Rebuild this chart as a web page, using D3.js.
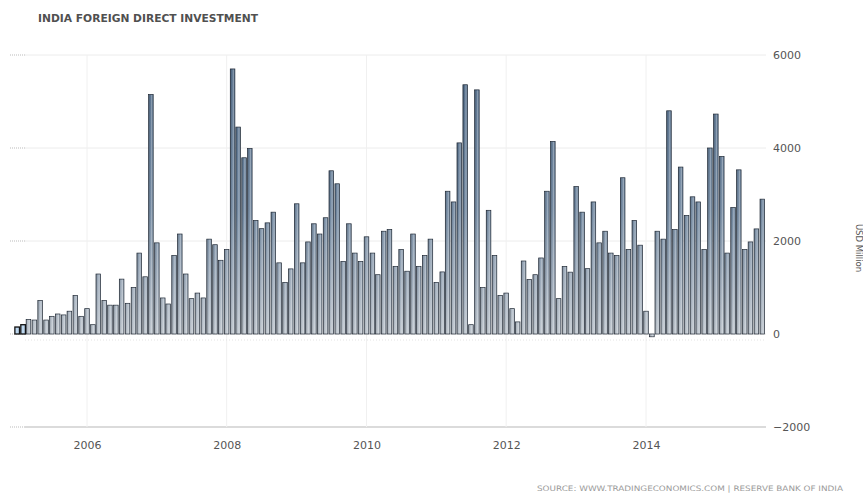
<!DOCTYPE html>
<html>
<head>
<meta charset="utf-8">
<script src="https://cdn.jsdelivr.net/npm/d3@7"></script>
<style>
  html, body { margin: 0; padding: 0; background: #fff; }
  svg { display: block; }
  text { font-family: "DejaVu Sans", sans-serif; }
</style>
</head>
<body>
<svg id="chart" width="863" height="498"></svg>
<script>
// ---- data ----
const titleText = "INDIA FOREIGN DIRECT INVESTMENT";
const unitLabel = "USD Million";
const sourceText = "SOURCE: WWW.TRADINGECONOMICS.COM | RESERVE BANK OF INDIA";
const firstMonth = "2005-01";   // month of first bar
const yTickValues = [-2000, 0, 2000, 4000, 6000];
const xTickLabels = ["2006", "2008", "2010", "2012", "2014"];
// monthly FDI, USD million, Jan 2005 .. Sep 2015
const fdiValues = [
  150, 200,
  310, 300, 720, 300, 380, 430, 410, 490, 830, 380,
  545, 200, 1290, 720, 620, 620, 1180, 660, 1000, 1740, 1230, 5150,
  1960, 775, 645, 1690, 2150, 1290, 760, 880, 775, 2040, 1920, 1585,
  1815, 5700, 4450, 3790, 3990, 2440, 2265, 2390, 2620, 1530, 1110, 1400,
  2800, 1530, 1980, 2370, 2150, 2500, 3510, 3230, 1560, 2370, 1740, 1560,
  2090, 1740, 1275, 2210, 2245, 1455, 1815, 1350, 2150, 1455, 1690, 2040,
  1110, 1335, 3070, 2840, 4110, 5360, 200, 5250, 1000, 2660, 1690, 830,
  880, 545, 260, 1570, 1170, 1275, 1635, 3070, 4140, 760, 1450, 1330,
  3170, 2620, 1405, 2840, 1960, 2210, 1740, 1690, 3360, 1815, 2440, 1910,
  490, -60, 2210, 2040, 4800, 2245, 3590, 2550, 2950, 2840, 1815, 4000,
  4730, 3820, 1740, 2720, 3530, 1815, 1980, 2260, 2900
];

// ---- build ----
const parseMonth = d3.timeParse("%Y-%m");
const start = parseMonth(firstMonth);
const months = fdiValues.map((v, i) => d3.timeMonth.offset(start, i));
const data = months.map((d, i) => ({ date: d, value: fdiValues[i], idx: i }));
const xTickDates = xTickLabels.map(s => new Date(+s, 0, 1));

const svg = d3.select("#chart");
const plotLeft = 25, plotRight = 766;

const x = d3.scaleTime()
  .domain([new Date(2006, 0, 1), new Date(2014, 0, 1)])
  .range([87, 646]);
const y = d3.scaleLinear().domain([-2000, 6000]).range([427, 55]);
const barW = 4.6;

// defs: gradients
const defs = svg.append("defs");
const g1 = defs.append("linearGradient").attr("id", "barGrad")
  .attr("gradientUnits", "userSpaceOnUse")
  .attr("x1", 0).attr("y1", y(6000)).attr("x2", 0).attr("y2", y(0));
g1.append("stop").attr("offset", "0%").attr("stop-color", "#44607f");
g1.append("stop").attr("offset", "55%").attr("stop-color", "#68809a");
g1.append("stop").attr("offset", "100%").attr("stop-color", "#b8c0c9");
const g2 = defs.append("linearGradient").attr("id", "barSheen")
  .attr("x1", 0).attr("y1", 0).attr("x2", 1).attr("y2", 0);
g2.append("stop").attr("offset", "0%").attr("stop-color", "#000").attr("stop-opacity", 0.25);
g2.append("stop").attr("offset", "35%").attr("stop-color", "#fff").attr("stop-opacity", 0.05);
g2.append("stop").attr("offset", "70%").attr("stop-color", "#fff").attr("stop-opacity", 0.35);
g2.append("stop").attr("offset", "100%").attr("stop-color", "#fff").attr("stop-opacity", 0.1);

// title
svg.append("text")
  .attr("x", 38).attr("y", 22)
  .attr("font-size", 10.5).attr("font-weight", "bold")
  .attr("fill", "#505050")
  .attr("textLength", 220).attr("lengthAdjust", "spacingAndGlyphs")
  .text(titleText);

// horizontal gridlines
svg.append("g").selectAll("line").data(yTickValues).join("line")
  .attr("x1", plotLeft).attr("x2", plotRight)
  .attr("y1", d => y(d)).attr("y2", d => y(d))
  .attr("stroke", d => d === -2000 ? "#cfcfcf" : "#ececec")
  .attr("stroke-width", d => d === -2000 ? 1.5 : 1);
// left dotted stubs
svg.append("g").selectAll("line").data(yTickValues).join("line")
  .attr("x1", 10).attr("x2", plotLeft)
  .attr("y1", d => y(d)).attr("y2", d => y(d))
  .attr("stroke", "#bbb").attr("stroke-dasharray", "1,1");

// vertical gridlines
svg.append("g").selectAll("line").data(xTickDates).join("line")
  .attr("x1", d => x(d)).attr("x2", d => x(d))
  .attr("y1", y(6000)).attr("y2", y(-2000))
  .attr("stroke", "#f0f0f0");

// faint dotted strip under the zero line
svg.append("line")
  .attr("x1", plotLeft).attr("x2", plotRight)
  .attr("y1", y(0) + 6).attr("y2", y(0) + 6)
  .attr("stroke", "#e4e4e4").attr("stroke-dasharray", "1,2");

// bars
const bars = svg.append("g");
bars.selectAll("rect.bar").data(data).join("rect")
  .attr("class", "bar")
  .attr("x", d => x(d.date) - barW / 2)
  .attr("width", barW)
  .attr("y", d => y(Math.max(0, d.value)))
  .attr("height", d => Math.max(1, Math.abs(y(d.value) - y(0))))
  .attr("fill", d => d.idx < 2 ? "#bcd6ee" : "url(#barGrad)")
  .attr("stroke", d => d.idx < 2 ? "#111" : "#1e2733")
  .attr("stroke-width", d => d.idx < 2 ? 1.3 : 0.7);
bars.selectAll("rect.sheen").data(data.filter(d => d.idx >= 2)).join("rect")
  .attr("class", "sheen")
  .attr("x", d => x(d.date) - barW / 2 + 0.4)
  .attr("width", barW - 0.8)
  .attr("y", d => y(Math.max(0, d.value)) + 0.4)
  .attr("height", d => Math.max(0, Math.abs(y(d.value) - y(0)) - 0.8))
  .attr("fill", "url(#barSheen)");

// y axis (right)
const yAxis = svg.append("g")
  .attr("transform", `translate(${plotRight + 4},0)`)
  .call(d3.axisRight(y).tickValues(yTickValues).tickSize(0).tickPadding(3)
        .tickFormat(d3.format("d")));
yAxis.select(".domain").remove();
yAxis.selectAll("text").attr("font-size", 11).attr("fill", "#555")
  .attr("font-family", "DejaVu Sans, sans-serif");

// x axis
const xAxis = svg.append("g")
  .attr("transform", `translate(0,${y(-2000)})`)
  .call(d3.axisBottom(x).tickValues(xTickDates).tickSize(0).tickPadding(14)
        .tickFormat((d, i) => xTickLabels[i]));
xAxis.select(".domain").remove();
xAxis.selectAll("text").attr("font-size", 11).attr("fill", "#555")
  .attr("font-family", "DejaVu Sans, sans-serif");

// unit label (rotated)
svg.append("text")
  .attr("transform", "translate(856,248) rotate(90)")
  .attr("text-anchor", "middle")
  .attr("font-size", 8.5).attr("fill", "#555")
  .text(unitLabel);

// source
svg.append("text")
  .attr("x", 537).attr("y", 491)
  .attr("font-size", 7.5).attr("fill", "#9a9a9a")
  .attr("textLength", 306).attr("lengthAdjust", "spacingAndGlyphs")
  .text(sourceText);
</script>
</body>
</html>
